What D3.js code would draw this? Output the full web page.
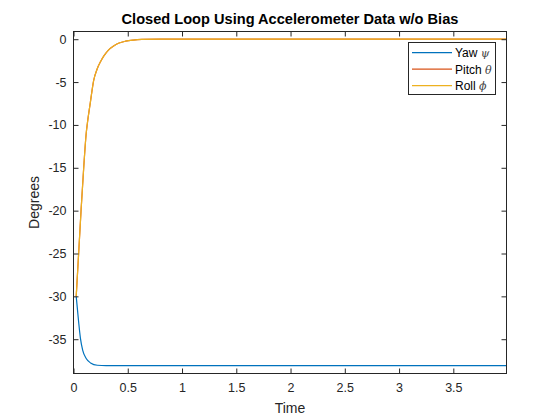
<!DOCTYPE html>
<html><head><meta charset="utf-8">
<script src="https://cdn.jsdelivr.net/npm/d3@7"></script>
<style>
body{margin:0;background:#fff;}
text{font-family:"Liberation Sans",Arial,Helvetica,sans-serif;}
</style></head>
<body>
<svg id="chart" width="560" height="420"></svg>
<script>
// ---- data ----
const titleText = "Closed Loop Using Accelerometer Data w/o Bias";
const xLabel = "Time";
const yLabel = "Degrees";
const xTicks = [0, 0.5, 1, 1.5, 2, 2.5, 3, 3.5];
const yTicks = [-35, -30, -25, -20, -15, -10, -5, 0];
const xDomain = [0, 3.99];
const yDomain = [-39, 0.9];

const yawTime   = [0.025, 0.037, 0.049, 0.064, 0.085, 0.117, 0.157, 0.22, 0.3, 0.5, 1, 2, 3, 3.99];
const yawValue  = [-30, -31.6, -33.2, -34.9, -36.3, -37.25, -37.77, -38.04, -38.07, -38.07, -38.07, -38.07, -38.07, -38.07];

const pitchTime  = [0.025, 0.048, 0.07, 0.095, 0.117, 0.128, 0.155, 0.186, 0.217, 0.25, 0.28, 0.32, 0.37, 0.42, 0.48, 0.55, 0.63, 0.8, 1, 2, 3, 3.99];
const pitchValue = [-30, -24.85, -19.9, -14.8, -11.0, -9.8, -7.4, -4.8, -3.5, -2.6, -1.95, -1.3, -0.8, -0.45, -0.23, -0.1, -0.03, 0, 0, 0, 0, 0];

const rollTime   = [0.025, 0.048, 0.07, 0.095, 0.117, 0.128, 0.155, 0.186, 0.217, 0.25, 0.28, 0.32, 0.37, 0.42, 0.48, 0.55, 0.63, 0.8, 1, 2, 3, 3.99];
const rollValue  = [-30, -24.85, -19.9, -14.8, -11.0, -9.8, -7.4, -4.8, -3.5, -2.6, -1.95, -1.3, -0.8, -0.45, -0.23, -0.1, -0.03, 0, 0, 0, 0, 0];

const seriesNames = ["Yaw", "Pitch", "Roll"];
const seriesGreek = ["\u03C8", "\u03B8", "\u03D5"];
const seriesColors = ["#0072BD", "#D95319", "#EDB120"];

// ---- drawing ----
const svg = d3.select("#chart");
const m = {left: 73.5, right: 506.5, top: 31.5, bottom: 373.5};
const x = d3.scaleLinear().domain(xDomain).range([m.left, m.right]);
const y = d3.scaleLinear().domain(yDomain).range([m.bottom, m.top]);
const axisColor = "#262626";

// series
const series = [
  {t: yawTime, v: yawValue},
  {t: pitchTime, v: pitchValue},
  {t: rollTime, v: rollValue}
];
const line = d3.line().x(d => x(d[0])).y(d => y(d[1])).curve(d3.curveMonotoneX);
const plot = svg.append("g");
series.forEach((s, i) => {
  const pts = s.t.map((t, k) => [t, s.v[k]]);
  plot.append("path").datum(pts)
    .attr("d", line).attr("fill", "none")
    .attr("stroke", seriesColors[i]).attr("stroke-width", 1.2);
});

// axes
const tickLen = 5;
const gx = svg.append("g").attr("transform", `translate(0,${m.bottom})`)
  .call(d3.axisBottom(x).tickValues(xTicks).tickSizeInner(-tickLen).tickSizeOuter(0).tickPadding(10).tickFormat(d3.format("")));
const gxt = svg.append("g").attr("transform", `translate(0,${m.top})`)
  .call(d3.axisTop(x).tickValues(xTicks).tickSizeInner(-tickLen).tickSizeOuter(0).tickFormat(""));
const gy = svg.append("g").attr("transform", `translate(${m.left},0)`)
  .call(d3.axisLeft(y).tickValues(yTicks).tickSizeInner(-tickLen).tickSizeOuter(0).tickPadding(7).tickFormat(d3.format("")));
const gyr = svg.append("g").attr("transform", `translate(${m.right},0)`)
  .call(d3.axisRight(y).tickValues(yTicks).tickSizeInner(-tickLen).tickSizeOuter(0).tickFormat(""));
[gx, gxt, gy, gyr].forEach(g => {
  g.select(".domain").remove();
  g.selectAll("line").attr("stroke", axisColor).attr("stroke-width", 1);
  g.selectAll("text").attr("fill", axisColor).style("font-size", "12.5px")
    .style("font-family", "'Liberation Sans', Arial, sans-serif");
});
gy.selectAll("text").text(d => d < 0 ? "-" + Math.abs(d) : d);

svg.append("rect").attr("x", m.left).attr("y", m.top)
  .attr("width", m.right - m.left).attr("height", m.bottom - m.top)
  .attr("fill", "none").attr("stroke", axisColor).attr("stroke-width", 1);

// labels
svg.append("text").attr("x", (m.left + m.right) / 2).attr("y", 24)
  .attr("text-anchor", "middle").attr("font-weight", "bold").attr("font-size", "14.6px")
  .attr("fill", "#000").text(titleText);
svg.append("text").attr("x", (m.left + m.right) / 2).attr("y", 413)
  .attr("text-anchor", "middle").attr("font-size", "14px").attr("fill", axisColor).text(xLabel);
svg.append("text").attr("transform", `translate(39,${(m.top + m.bottom) / 2}) rotate(-90)`)
  .attr("text-anchor", "middle").attr("font-size", "14px").attr("fill", axisColor).text(yLabel);

// legend
const lg = svg.append("g");
lg.append("rect").attr("x", 408.5).attr("y", 42.5).attr("width", 87).attr("height", 52)
  .attr("fill", "#fff").attr("stroke", axisColor).attr("stroke-width", 1);
seriesNames.forEach((nm, i) => {
  const yy = 52.7 + i * 16.5;
  lg.append("line").attr("x1", 412).attr("x2", 452).attr("y1", yy).attr("y2", yy)
    .attr("stroke", seriesColors[i]).attr("stroke-width", 1.2);
  const tx = lg.append("text").attr("x", 455).attr("y", yy + 4.3).attr("font-size", "12px").attr("fill", "#000");
  tx.append("tspan").text(nm + " ");
  tx.append("tspan").attr("font-family", "'DejaVu Serif', 'Liberation Serif', serif")
    .attr("font-style", "italic").attr("font-size", "11px").attr("fill", "#444").text(seriesGreek[i]);
});
</script>
</body></html>
